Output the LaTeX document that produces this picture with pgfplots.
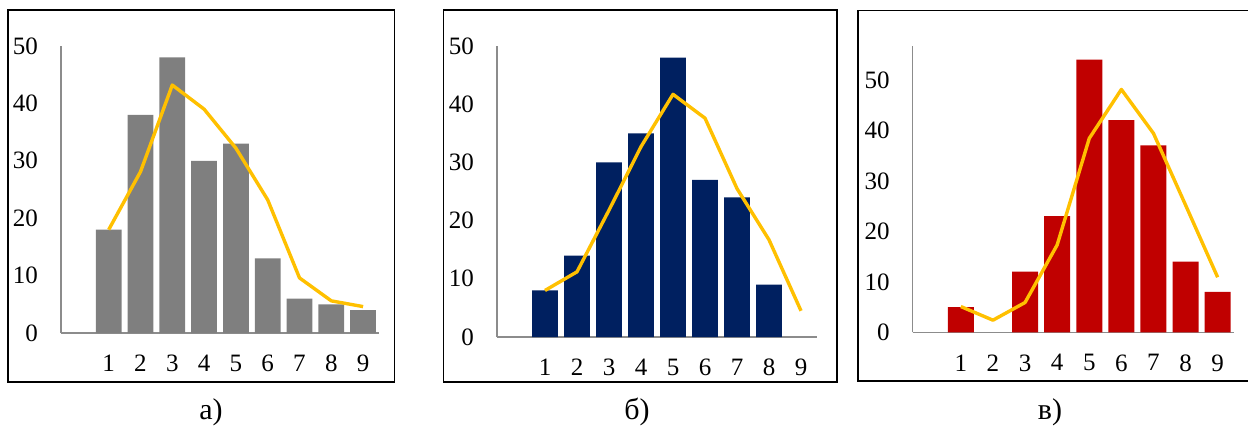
\documentclass[border=0pt]{standalone}
\usepackage{fontspec}
\setmainfont{Liberation Serif}
\usepackage{pgfplots}
\pgfplotsset{compat=1.18}
\definecolor{barA}{HTML}{7F7F7F}
\definecolor{barB}{HTML}{002060}
\definecolor{barC}{HTML}{C00000}
\definecolor{lineO}{HTML}{FFC000}
\definecolor{axgray}{HTML}{8C8C8C}
\pgfplotsset{panel/.style={
  scale only axis, anchor=south west,
  xmin=-0.5, xmax=9.5, ymin=0,
  axis lines=left,
  axis line style={-, draw=axgray, line width=1.5pt},
  xtick={1,...,9}, ytick={0,10,...,50},
  major tick length=0pt, tick style={draw=none},
  /pgf/number format/assume math mode=true,
  tick label style={font=\fontsize{25}{27}\selectfont, inner sep=0pt},
  yticklabel style={anchor=east, xshift=-23pt},
  xticklabel style={anchor=north, yshift=-22pt},
  clip=false,
}}
\begin{document}
\begin{tikzpicture}[x=1pt,y=1pt]
\path[use as bounding box] (0,0) rectangle (1248,-434);
\draw[line width=1.3pt] (8,-10) rectangle (394.5,-382);
\draw[line width=1.3pt] (443.5,-10) rectangle (837,-382);
\draw[line width=1.3pt] (858,-10.5) rectangle (1252,-381);
\node[anchor=base, font=\fontsize{30}{32}\selectfont] at (211,-419) {а)};
\node[anchor=base, font=\fontsize{30}{32}\selectfont] at (637,-419) {б)};
\node[anchor=base, font=\fontsize{30}{32}\selectfont] at (1050,-419) {в)};

\begin{axis}[panel, at={(61pt,-333pt)}, width=318pt, height=287pt, ymax=50]
\addplot[ybar, bar width=0.81, fill=barA, draw=none] coordinates {(1,18) (2,38) (3,48) (4,30) (5,33) (6,13) (7,6) (8,5) (9,4)};
\addplot[sharp plot, no marks, draw=lineO, line width=3.4pt, line join=round] coordinates {(1,18) (2,28.1) (3,43.2) (4,39) (5,32.2) (6,23.2) (7,9.6) (8,5.6) (9,4.6)};
\end{axis}

\begin{axis}[panel, at={(497pt,-337pt)}, width=320pt, height=291pt, ymax=50]
\addplot[ybar, bar width=0.81, fill=barB, draw=none] coordinates {(1,8) (2,14) (3,30) (4,35) (5,48) (6,27) (7,24) (8,9)};
\addplot[sharp plot, no marks, draw=lineO, line width=3.4pt, line join=round] coordinates {(1,8) (2,11.2) (3,21.8) (4,32.7) (5,41.7) (6,37.6) (7,25.5) (8,16.7) (9,4.5)};
\end{axis}

\begin{axis}[panel, at={(912.7pt,-332.3pt)}, width=321pt, height=286.3pt, ymax=56.7]
\addplot[ybar, bar width=0.81, fill=barC, draw=none] coordinates {(1,5) (3,12) (4,23) (5,54) (6,42) (7,37) (8,14) (9,8)};
\addplot[sharp plot, no marks, draw=lineO, line width=3.4pt, line join=round] coordinates {(1,5.1) (2,2.4) (3,5.9) (4,17.3) (5,38.4) (6,48.1) (7,39.4) (8,25.2) (9,10.9)};
\end{axis}
\end{tikzpicture}
\end{document}
